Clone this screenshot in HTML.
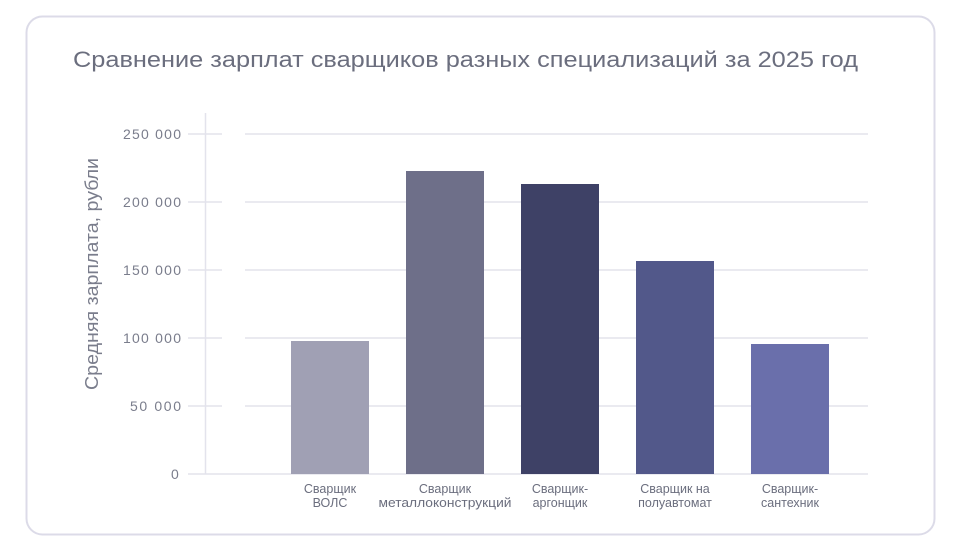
<!DOCTYPE html>
<html><head><meta charset="utf-8"><style>
body{margin:0;background:#fff;}
svg text{font-family:"Liberation Sans",sans-serif;}
</style></head><body>
<svg width="961" height="550" xmlns="http://www.w3.org/2000/svg">
<rect x="26.5" y="16.5" width="908" height="518" rx="16" fill="#fff" stroke="#dcdbe8" stroke-width="2"/>
<text x="73" y="67" font-size="22" fill="#6b6e7e" textLength="785" lengthAdjust="spacingAndGlyphs">Сравнение зарплат сварщиков разных специализаций за 2025 год</text>
<g stroke="#e3e3ec" stroke-width="1.5">
<line x1="188" y1="134" x2="222" y2="134"/><line x1="245" y1="134" x2="868" y2="134"/>
<line x1="188" y1="202" x2="222" y2="202"/><line x1="245" y1="202" x2="868" y2="202"/>
<line x1="188" y1="270" x2="222" y2="270"/><line x1="245" y1="270" x2="868" y2="270"/>
<line x1="188" y1="338" x2="222" y2="338"/><line x1="245" y1="338" x2="868" y2="338"/>
<line x1="188" y1="406" x2="222" y2="406"/><line x1="245" y1="406" x2="868" y2="406"/>
<line x1="188" y1="474" x2="868" y2="474"/>
<line x1="205.5" y1="113" x2="205.5" y2="474"/>
</g>
<g font-size="14" fill="#7a7d8c">
<text x="123" y="139" textLength="58">250 000</text><text x="123" y="207" textLength="58">200 000</text><text x="123" y="275" textLength="58">150 000</text>
<text x="123" y="343" textLength="58">100 000</text><text x="130" y="411" textLength="51">50 000</text><text x="171" y="479">0</text>
</g>
<text transform="translate(98,274) rotate(-90)" text-anchor="middle" font-size="18" fill="#7a7d8c" textLength="232" lengthAdjust="spacingAndGlyphs">Средняя зарплата, рубли</text>
<rect x="291" y="341" width="78" height="133" fill="#a0a0b4"/>
<rect x="406" y="171" width="78" height="303" fill="#6e6f89"/>
<rect x="521" y="184" width="78" height="290" fill="#3e4166"/>
<rect x="636" y="261" width="78" height="213" fill="#52588a"/>
<rect x="751" y="344" width="78" height="130" fill="#6a6fab"/>
<g font-size="12.5" fill="#6b6e7e" text-anchor="middle">
<text x="330" y="493">Сварщик</text><text x="330" y="507">ВОЛС</text>
<text x="445" y="493">Сварщик</text><text x="445" y="507" textLength="133" lengthAdjust="spacingAndGlyphs">металлоконструкций</text>
<text x="560" y="493">Сварщик-</text><text x="560" y="507">аргонщик</text>
<text x="675" y="493">Сварщик на</text><text x="675" y="507">полуавтомат</text>
<text x="790" y="493">Сварщик-</text><text x="790" y="507">сантехник</text>
</g>
</svg>
</body></html>
